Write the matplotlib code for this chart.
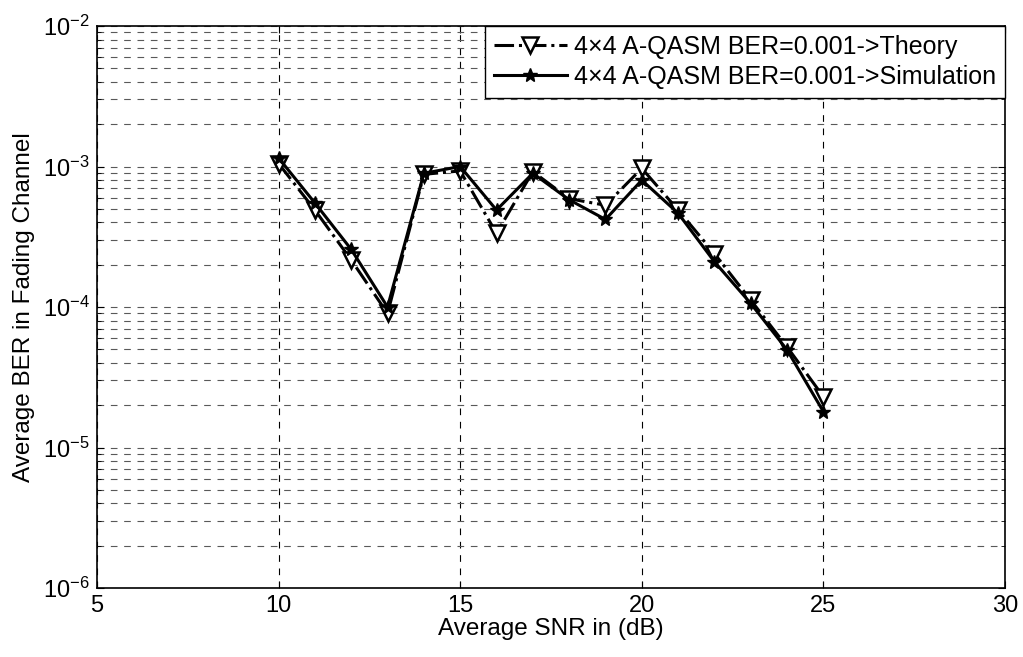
import numpy as np
import matplotlib.pyplot as plt
from matplotlib.ticker import LogLocator, NullFormatter, FuncFormatter

plt.rcParams['font.family'] = ['Liberation Sans', 'DejaVu Sans']
plt.rcParams['mathtext.fontset'] = 'custom'
plt.rcParams['mathtext.rm'] = 'Liberation Sans'

snr = [10, 11, 12, 13, 14, 15, 16, 17, 18, 19, 20, 21, 22, 23, 24, 25]
ber_theory = [1.05e-3, 4.9e-4, 2.16e-4, 9.0e-5, 8.8e-4, 9.3e-4, 3.35e-4, 9.2e-4,
              5.9e-4, 5.3e-4, 9.7e-4, 4.9e-4, 2.4e-4, 1.12e-4, 5.2e-5, 2.3e-5]
ber_sim = [1.15e-3, 5.5e-4, 2.57e-4, 1.0e-4, 8.95e-4, 1.0e-3, 4.9e-4, 8.95e-4,
           5.8e-4, 4.2e-4, 8.0e-4, 4.65e-4, 2.1e-4, 1.06e-4, 4.95e-5, 1.8e-5]

fig = plt.figure(figsize=(10.23, 6.57), dpi=100)
ax = fig.add_axes([0.0948, 0.105, 0.8876, 0.8554])

ax.semilogy(snr, ber_theory, color='k', linestyle='-.', linewidth=2.2,
            marker='v', markersize=12, markerfacecolor='white',
            markeredgewidth=1.8, label='4\u00d74 A-QASM BER=0.001->Theory')
ax.semilogy(snr, ber_sim, color='k', linestyle='-', linewidth=2.2,
            marker='*', markersize=10, label='4\u00d74 A-QASM BER=0.001->Simulation')

ax.set_xlim(5, 30)
ax.set_ylim(1e-6, 1e-2)
ax.set_xticks([5, 10, 15, 20, 25, 30])
ax.yaxis.set_major_locator(LogLocator(base=10, numticks=10))
ax.yaxis.set_major_formatter(FuncFormatter(
    lambda v, p: r'$\mathregular{10^{%d}}$' % int(round(np.log10(v)))))
ax.yaxis.set_minor_locator(LogLocator(base=10, subs=np.arange(2, 10), numticks=20))
ax.yaxis.set_minor_formatter(NullFormatter())

ax.grid(True, which='major', axis='x', linestyle=(0, (6, 6)), color='k', linewidth=0.8)
ax.grid(True, which='both', axis='y', linestyle=(0, (6, 6)), color='0.35', linewidth=0.8)

ax.tick_params(which='both', direction='in', top=True, right=True, labelsize=17)
ax.tick_params(which='major', length=5, pad=5)
ax.tick_params(which='minor', length=3)
for s in ax.spines.values():
    s.set_linewidth(1.2)

ax.set_xlabel('Average SNR in (dB)', fontsize=17.5, labelpad=1)
ax.set_ylabel('Average BER in Fading Channel', fontsize=17.5, labelpad=6)

leg = ax.legend(loc='upper right', fontsize=18, fancybox=False, framealpha=1,
                edgecolor='k', borderaxespad=0, handlelength=2.9,
                handletextpad=0.3, borderpad=0.35, labelspacing=0.25)
leg.get_frame().set_linewidth(1.0)

fig.savefig('out.png', dpi=100)
